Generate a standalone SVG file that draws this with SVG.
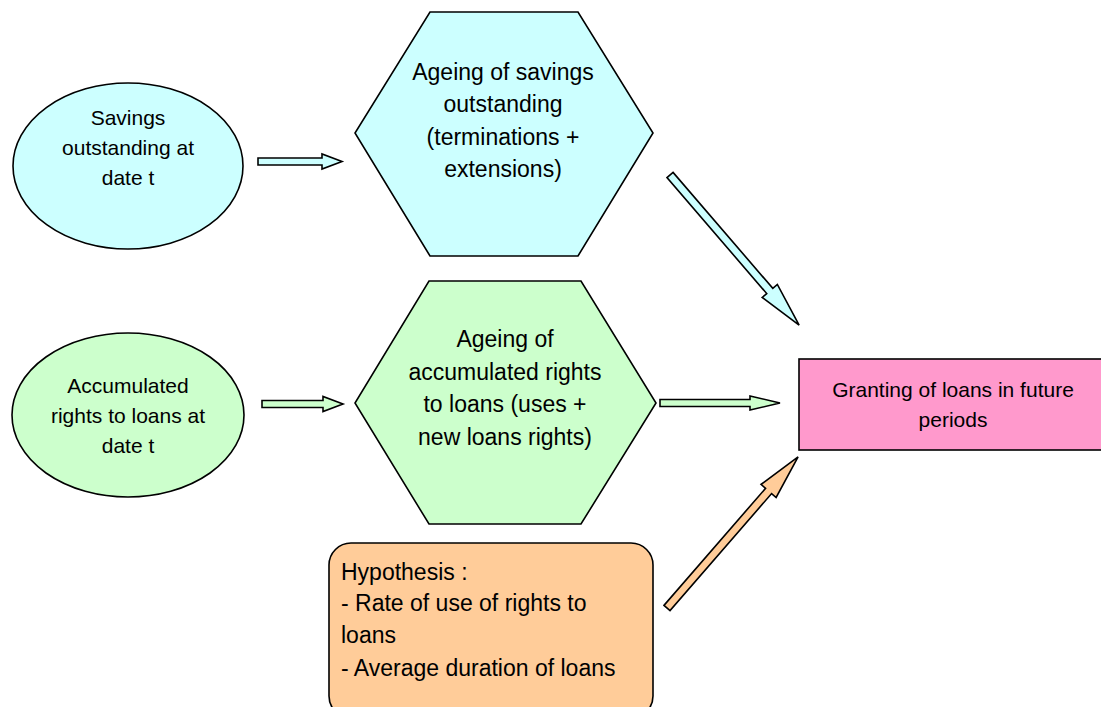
<svg xmlns="http://www.w3.org/2000/svg" width="1101" height="707" viewBox="0 0 1101 707">
<style>
.s{stroke:#000;stroke-width:1.6;stroke-linejoin:miter}
.cy{fill:#CCFFFF}.gr{fill:#CCFFCC}.pk{fill:#FF99CC}.or{fill:#FFCC99}
text{font-family:"Liberation Sans",Arial,sans-serif;fill:#000}
.c{text-anchor:middle}
.t20{font-size:21px}.t22{font-size:23px}
</style>
<rect width="1101" height="707" fill="#fff"/>
<g id="savings">
<ellipse class="s cy" cx="128" cy="166" rx="115" ry="83"/>
<text class="c t20"><tspan x="128" y="125">Savings</tspan><tspan x="128" y="155">outstanding at</tspan><tspan x="128" y="185">date t</tspan></text>
</g>
<g id="rights">
<ellipse class="s gr" cx="128" cy="415" rx="116" ry="82"/>
<text class="c t20"><tspan x="128" y="393">Accumulated</tspan><tspan x="128" y="423">rights to loans at</tspan><tspan x="128" y="453">date t</tspan></text>
</g>
<g id="ageing-savings">
<polygon class="s cy" points="430,12 578,12 653,133 578,256 430,256 355,133"/>
<text class="c t22"><tspan x="503" y="80">Ageing of savings</tspan><tspan x="503" y="112">outstanding</tspan><tspan x="503" y="145">(terminations +</tspan><tspan x="503" y="177">extensions)</tspan></text>
</g>
<g id="ageing-rights">
<polygon class="s gr" points="429,281 581,281 656,403 581,524 429,524 355,403"/>
<text class="c t22"><tspan x="505" y="347">Ageing of</tspan><tspan x="505" y="380">accumulated rights</tspan><tspan x="505" y="412">to loans (uses +</tspan><tspan x="505" y="445">new loans rights)</tspan></text>
</g>
<g id="granting">
<rect class="s pk" x="799" y="359" width="310" height="91"/>
<text class="c t20"><tspan x="953" y="397">Granting of loans in future</tspan><tspan x="953" y="427">periods</tspan></text>
</g>
<g id="hypothesis">
<rect class="s or" x="329" y="543" width="324" height="175" rx="22" ry="22"/>
<text class="t22"><tspan x="341" y="580">Hypothesis :</tspan><tspan x="341" y="611">- Rate of use of rights to</tspan><tspan x="341" y="643">loans</tspan><tspan x="341" y="676">- Average duration of loans</tspan></text>
</g>
<g id="connectors">
<polygon class="s cy" points="258,158 322,158 322,154 342,161.5 322,169 322,165 258,165"/>
<polygon class="s gr" points="262,400.5 323,400.5 323,396.5 343,404 323,411.5 323,407.5 262,407.5"/>
<polygon class="s gr" points="660,399.5 750,399.5 750,396 780,403 750,410 750,406.5 660,406.5"/>
<polygon class="s cy" transform="translate(670,175) rotate(49.3)" points="0,-4 153,-4 153,-10 198,0 153,10 153,4 0,4"/>
<polygon class="s or" transform="translate(667,608) rotate(-49.05)" points="0,-4 155,-4 155,-10 200,0 155,10 155,4 0,4"/>
</g>
</svg>
